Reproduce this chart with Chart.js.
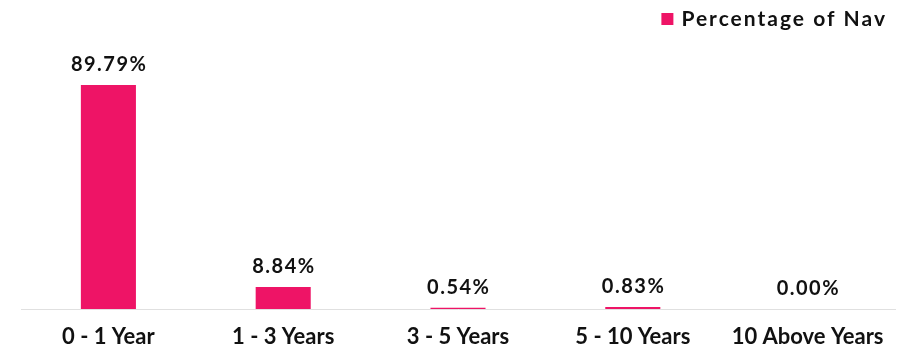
<!DOCTYPE html>
<html>
<head>
<meta charset="utf-8">
<script src="https://cdn.jsdelivr.net/npm/chart.js@4"></script>
<style>
  html, body { margin: 0; padding: 0; background: #fff; }
  #wrap { width: 916px; height: 358px; }
</style>
</head>
<body>
<div id="wrap"><canvas id="c"></canvas></div>
<script>
const categories = ['0 - 1 Year', '1 - 3 Years', '3 - 5 Years', '5 - 10 Years', '10 Above Years'];
const navPct = [89.79, 8.84, 0.54, 0.83, 0.00];
const seriesName = 'Percentage of Nav';
const barColor = '#EE1466';

// value above each bar, plus a right-aligned legend (spaced lettering)
const overlay = {
  id: 'overlay',
  afterDatasetsDraw(chart) {
    const ctx = chart.ctx;
    const meta = chart.getDatasetMeta(0);
    ctx.save();
    ctx.font = 'bold 20px Lato';
    ctx.letterSpacing = '1.5px';
    ctx.fillStyle = '#111';
    ctx.textAlign = 'center';
    ctx.textBaseline = 'alphabetic';
    meta.data.forEach((bar, i) => {
      ctx.fillText(navPct[i].toFixed(2) + '%', bar.x + 0.75, bar.y - 14);
    });
    ctx.restore();
  },
  afterDraw(chart) {
    const ctx = chart.ctx;
    const ds = chart.data.datasets[0];
    ctx.save();
    ctx.font = 'bold 21px Lato';
    ctx.letterSpacing = '2px';
    ctx.textBaseline = 'middle';
    ctx.textAlign = 'left';
    const w = ctx.measureText(ds.label).width;
    const right = 887;
    const tx = right - w;
    ctx.fillStyle = ds.backgroundColor;
    ctx.fillRect(tx - 20, 13, 12, 12);
    ctx.fillStyle = '#111';
    ctx.fillText(ds.label, tx, 19);
    ctx.restore();
  }
};

new Chart(document.getElementById('c'), {
  type: 'bar',
  data: {
    labels: categories,
    datasets: [{
      label: seriesName,
      data: navPct,
      backgroundColor: barColor,
      borderWidth: 0,
      barPercentage: 0.63,
      categoryPercentage: 0.5,
    }],
  },
  options: {
    responsive: true,
    maintainAspectRatio: false,
    animation: false,
    layout: { padding: { left: 21, right: 21, top: 59.5, bottom: 6 } },
    plugins: {
      legend: { display: false },
      tooltip: { enabled: false },
    },
    scales: {
      x: {
        grid: { display: false, drawTicks: false },
        border: { color: '#e0e0e0', width: 1 },
        ticks: { color: '#111', font: { size: 22, family: 'Lato', weight: 'bold' }, padding: 15 },
        afterFit(scale) { scale.height = 43; },
      },
      y: {
        display: false,
        min: 0,
        max: 100,
      },
    },
  },
  plugins: [overlay],
});
</script>
</body>
</html>
